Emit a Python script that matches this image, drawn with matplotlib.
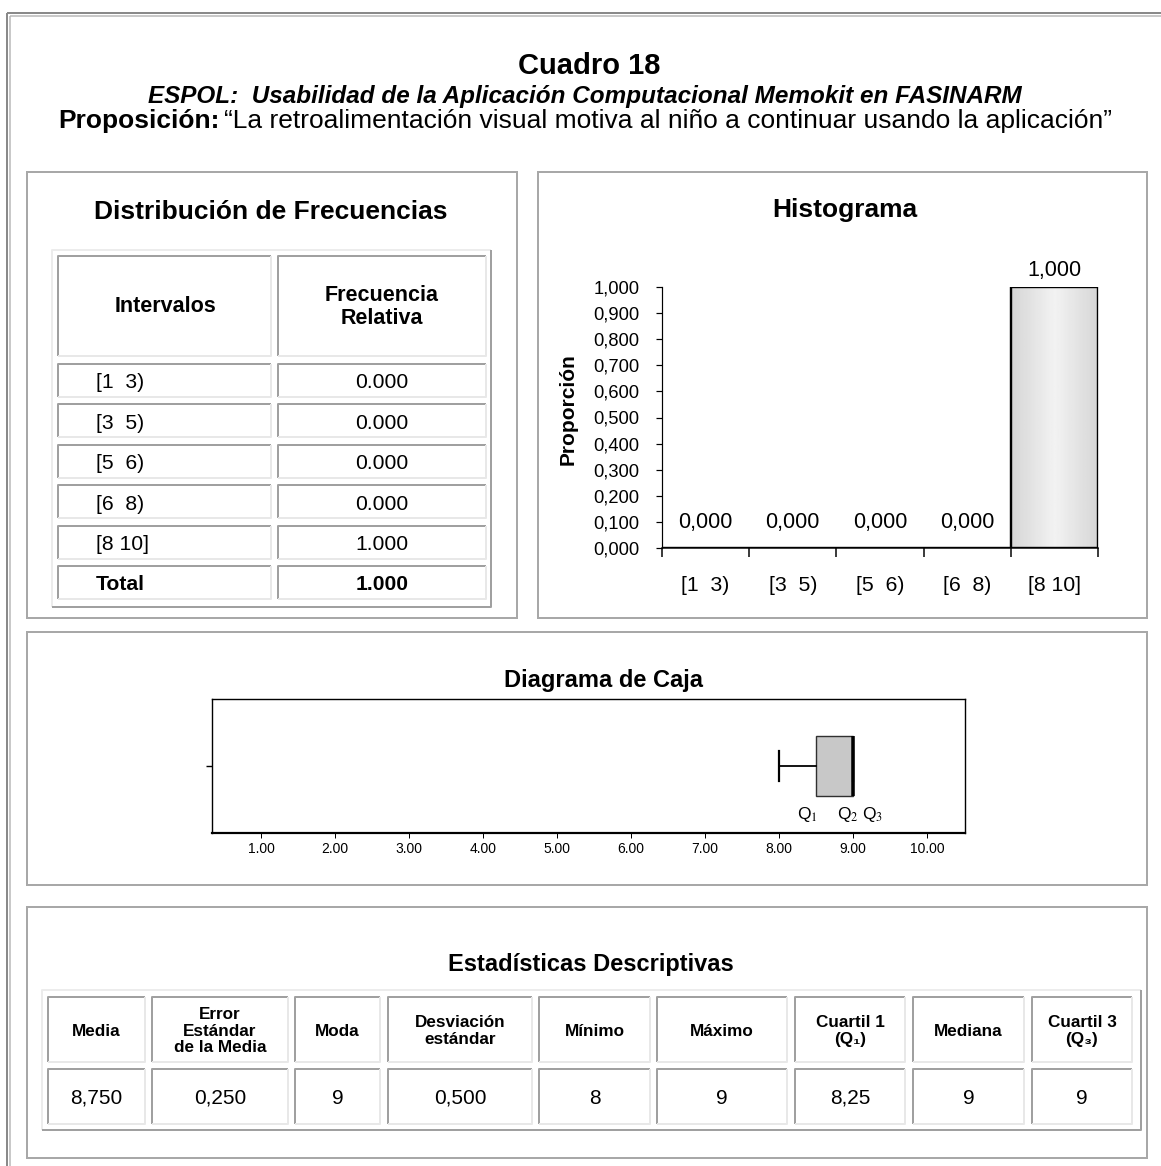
import matplotlib
matplotlib.use('Agg')
import matplotlib.pyplot as plt
import matplotlib.font_manager as fm
import numpy as np
from matplotlib.patches import Rectangle
from matplotlib.ticker import FuncFormatter, FixedLocator

# ---- datos ----
intervalos = ['[1  3)', '[3  5)', '[5  6)', '[6  8)', '[8 10]']
frec_relativa = [0.000, 0.000, 0.000, 0.000, 1.000]
frec_total = 1.000

caja_min = 8.0
caja_q1 = 8.5
caja_mediana = 9.0
caja_q3 = 9.0
caja_max = 9.0
caja_ticks = [1, 2, 3, 4, 5, 6, 7, 8, 9, 10]

estad_nombres = ['Media', 'Error\nEstándar\nde la Media', 'Moda', 'Desviación\nestándar',
                 'Mínimo', 'Máximo', 'Cuartil 1\n(Q\u2081)', 'Mediana', 'Cuartil 3\n(Q\u2083)']
estad_valores = ['8,750', '0,250', '9', '0,500', '8', '9', '8,25', '9', '9']

# ---- fuentes ----
nombres = {f.name for f in fm.fontManager.ttflist}
SANS = ['Liberation Sans', 'DejaVu Sans']
if 'Liberation Sans Narrow' in nombres:
    NARROW = ['Liberation Sans Narrow', 'DejaVu Sans']
else:
    NARROW = SANS
plt.rcParams['font.family'] = SANS
plt.rcParams['mathtext.fontset'] = 'stix'

W, H = 1161, 1166
PX = 72 / 100  # puntos por pixel

fig = plt.figure(figsize=(W / 100, H / 100), dpi=100)
bg = fig.add_axes([0, 0, 1, 1])
bg.set_xlim(0, W)
bg.set_ylim(H, 0)
bg.axis('off')


def bevel(x0, y0, x1, y1, tl, br, lw=2):
    bg.plot([x0, x0, x1], [y1, y0, y0], color=tl, lw=lw * PX, solid_capstyle='butt')
    bg.plot([x1, x1, x0], [y0, y1, y1], color=br, lw=lw * PX, solid_capstyle='butt')


def caja(x0, y0, x1, y1, color='#a8a8a8', lw=2):
    bg.add_patch(Rectangle((x0, y0), x1 - x0, y1 - y0, fill=False, ec=color, lw=lw * PX))


def fmt_coma(v, pos=None):
    return ('%.3f' % v).replace('.', ',')


# marco exterior (doble linea)
bg.add_patch(Rectangle((7, 13), 1300, 1300, fill=False, ec='#8a8a8a', lw=2 * PX))
bg.add_patch(Rectangle((10, 16), 1300, 1300, fill=False, ec='#b8b8b8', lw=1.5 * PX))

# titulos
bg.text(589, 66, 'Cuadro 18', ha='center', va='center', fontsize=21, fontweight='bold')
bg.text(585, 97, 'ESPOL:  Usabilidad de la Aplicación Computacional Memokit en FASINARM',
        ha='center', va='center', fontsize=17.5, fontweight='bold', fontstyle='italic')
bg.text(58, 128, 'Proposición:', ha='left', va='baseline', fontsize=19, fontweight='bold')
bg.text(224, 128, '\u201cLa retroalimentación visual motiva al niño a continuar usando la aplicación\u201d',
        ha='left', va='baseline', fontsize=19)

# paneles
caja(27, 172, 517, 618)
caja(538, 172, 1147, 618)
caja(27, 632, 1147, 885)
caja(27, 907, 1147, 1158)

# ---- Distribucion de frecuencias ----
bg.text(271, 212, 'Distribución de Frecuencias', ha='center', va='center',
        fontsize=19, fontweight='bold')
bevel(52, 250, 491, 607, '#ececec', '#a0a0a0')
cols = [(58, 271), (278, 486)]
for c0, c1 in cols:
    bevel(c0, 256, c1, 356, '#a0a0a0', '#e8e8e8')
bg.text(165, 307, 'Intervalos', ha='center', va='center', fontsize=15.5, fontweight='bold')
bg.text(382, 307, 'Frecuencia\nRelativa', ha='center', va='center', fontsize=15.5,
        fontweight='bold', linespacing=1.15)
filas = intervalos + ['Total']
valores = frec_relativa + [frec_total]
for i, (lab, val) in enumerate(zip(filas, valores)):
    y0 = 364 + i * 40.4
    y1 = y0 + 33
    for c0, c1 in cols:
        bevel(c0, y0, c1, y1, '#a0a0a0', '#e8e8e8')
    peso = 'bold' if lab == 'Total' else 'normal'
    bg.text(96, y0 + 24.5, lab, ha='left', va='baseline', fontsize=15.2, fontweight=peso)
    bg.text(382, y0 + 24.5, '%.3f' % val, ha='center', va='baseline', fontsize=15.2,
            fontweight=peso)

# ---- Histograma ----
bg.text(845, 210, 'Histograma', ha='center', va='center', fontsize=19, fontweight='bold')
bg.text(568, 409, 'Proporción', ha='center', va='center', rotation=90, fontsize=15,
        fontweight='bold')
ax = fig.add_axes([662 / W, 1 - 548 / H, (1098 - 662) / W, (548 - 287) / H])
ax.patch.set_alpha(0)
pos = np.arange(len(intervalos))
barras = ax.bar(pos, frec_relativa, width=1.0, color='#e4e4e4', edgecolor='black',
                linewidth=2.4 * PX, zorder=2)
grad = 0.95 - 0.11 * np.abs(np.linspace(-1, 1, 64))[None, :]
for b, v in zip(barras, frec_relativa):
    if v > 0:
        im = ax.imshow(grad, cmap='gray', vmin=0, vmax=1, aspect='auto', zorder=1.5,
                       extent=(b.get_x(), b.get_x() + b.get_width(), 0, v))
        im.set_clip_path(b)
        b.set_facecolor('none')
for b, v in zip(barras, frec_relativa):
    off = 4 if v > 0 else 11
    ax.annotate(fmt_coma(v), (b.get_x() + b.get_width() / 2, v), xytext=(0, off),
                textcoords='offset points', ha='center', va='bottom', fontsize=15.5)
ax.set_xlim(-0.5, len(intervalos) - 0.5)
ax.set_ylim(0, 1.0)
ax.set_yticks(np.arange(0, 1.01, 0.1))
ax.yaxis.set_major_formatter(FuncFormatter(fmt_coma))
ax.tick_params(axis='y', direction='out', length=6 * PX, width=1.2 * PX, labelsize=13.2, pad=12)
ax.set_xticks(np.arange(-0.5, len(intervalos), 1.0))
ax.set_xticklabels([])
ax.xaxis.set_minor_locator(FixedLocator(pos))
ax.set_xticklabels(intervalos, minor=True)
ax.tick_params(axis='x', which='major', direction='out', length=9 * PX, width=1.5 * PX)
ax.tick_params(axis='x', which='minor', length=0, labelsize=15.3, pad=20)
for s in ['top', 'right']:
    ax.spines[s].set_visible(False)
ax.spines['left'].set_linewidth(1.2 * PX)
ax.spines['bottom'].set_linewidth(1.5 * PX)

# ---- Diagrama de caja ----
bg.text(604, 681, 'Diagrama de Caja', ha='center', va='center', fontsize=17,
        fontweight='bold', family=NARROW)
bx = fig.add_axes([212 / W, 1 - 833 / H, (965 - 212) / W, (833 - 699) / H])
stats = [{'whislo': caja_min, 'q1': caja_q1, 'med': caja_mediana, 'q3': caja_q3,
          'whishi': caja_max, 'fliers': []}]
kw = dict(positions=[0], widths=0.9, patch_artist=True, showfliers=False,
          manage_ticks=False, capwidths=0.46,
          boxprops=dict(facecolor='#c8c8c8', edgecolor='#303030', linewidth=1.4 * PX),
          medianprops=dict(color='black', linewidth=3.5 * PX, solid_capstyle='butt'),
          whiskerprops=dict(color='black', linewidth=1.8 * PX),
          capprops=dict(color='black', linewidth=2.2 * PX))
try:
    bx.bxp(stats, orientation='horizontal', **kw)
except TypeError:
    bx.bxp(stats, vert=False, **kw)
bx.set_xlim(1 + (212 - 261) / 74, 1 + (965 - 261) / 74)
bx.set_ylim(-1, 1)
bx.set_xticks(caja_ticks)
bx.set_xticklabels(['%.2f' % t for t in caja_ticks], family=NARROW)
bx.tick_params(axis='x', direction='out', length=5 * PX, width=1 * PX, labelsize=10, pad=3)
bx.set_yticks([0])
bx.set_yticklabels([])
bx.tick_params(axis='y', direction='out', length=6 * PX, width=1.4 * PX)
for s in ['top', 'right', 'left']:
    bx.spines[s].set_linewidth(1.4 * PX)
bx.spines['bottom'].set_linewidth(2.2 * PX)
bx.text(caja_q1 - 0.12, -0.73, 'Q$_1$', ha='center', va='center', fontsize=12.5)
bx.text(caja_mediana - 0.07, -0.73, 'Q$_2$', ha='center', va='center', fontsize=12.5)
bx.text(caja_q3 + 0.26, -0.73, 'Q$_3$', ha='center', va='center', fontsize=12.5)

# ---- Estadisticas descriptivas ----
bg.text(591, 965, 'Estadísticas Descriptivas', ha='center', va='center', fontsize=17,
        fontweight='bold', family=NARROW)
bevel(42, 990, 1141, 1130, '#ececec', '#a0a0a0')
ecols = [(48, 145), (152, 288), (295, 380), (388, 532), (539, 650), (657, 787),
         (795, 905), (913, 1024), (1032, 1132)]
for (c0, c1), nom, val in zip(ecols, estad_nombres, estad_valores):
    bevel(c0, 997, c1, 1062, '#a0a0a0', '#e8e8e8')
    bevel(c0, 1069, c1, 1124, '#a0a0a0', '#e8e8e8')
    bg.text((c0 + c1) / 2, 1031, nom, ha='center', va='center', fontsize=12.3,
            fontweight='bold', family=NARROW, linespacing=1.12)
    bg.text((c0 + c1) / 2, 1104, val, ha='center', va='baseline', fontsize=15, family=NARROW)

fig.savefig('out.png', dpi=100)
